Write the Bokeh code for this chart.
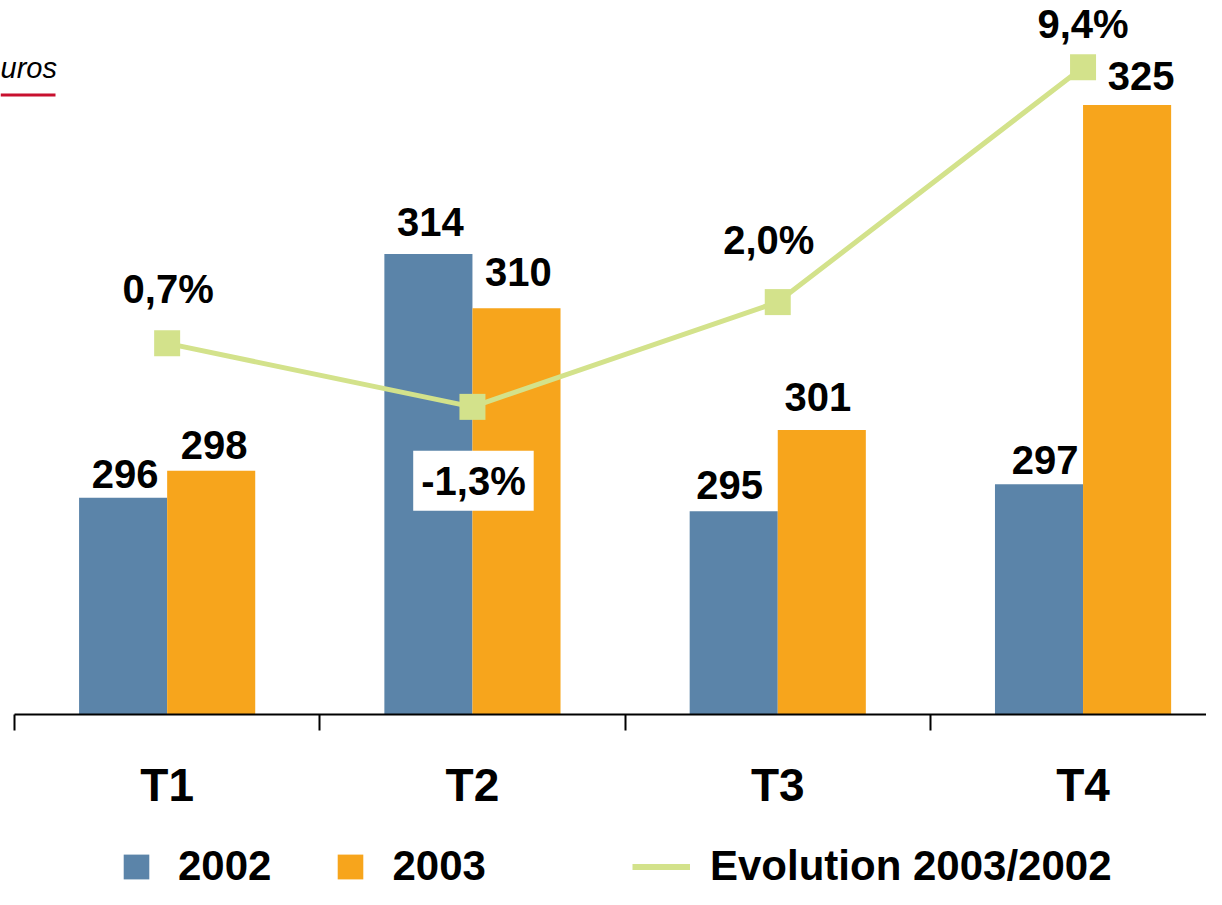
from bokeh.plotting import figure
from bokeh.layouts import column
from bokeh.models import (Range1d, LinearAxis, FixedTicker, Legend, LegendItem,
                          Label, BoxAnnotation)
from bokeh.core.properties import value
from bokeh.embed import file_html
from bokeh.resources import INLINE

# ---------------- data ----------------
quarters = ["T1", "T2", "T3", "T4"]
sales_2002 = [296, 314, 295, 297]
sales_2003 = [298, 310, 301, 325]
evolution_pct = [0.7, -1.3, 2.0, 9.4]
pct_labels = ["0,7%", "-1,3%", "2,0%", "9,4%"]
series_names = ["2002", "2003", "Evolution 2003/2002"]
unit_fragment = "uros"

# ---------------- style ----------------
BLUE = "#5B84A9"
ORANGE = "#F7A51C"
GREEN = "#D3E28B"
RED = "#C8102E"
FONT = "Liberation Sans"

W = 1206
H_MAIN, H_LEG = 820, 69
Y0, Y1 = 280.0, 332.71
CAT_PX = 305.3          # pixels per quarter
X_START = -14 / CAT_PX
X_END = (W - 14) / CAT_PX

p = figure(width=W, height=H_MAIN, output_backend="svg", toolbar_location=None,
           x_range=Range1d(X_START, X_END), y_range=Range1d(Y0, Y1),
           x_axis_location=None, y_axis_location=None,
           min_border_left=0, min_border_right=0, min_border_top=0,
           min_border_bottom=H_MAIN - 714, background_fill_color="white",
           border_fill_color="white")
p.outline_line_color = None
for g in p.grid:
    g.visible = False
p.extra_y_ranges = {"pct": Range1d(-10.99, 11.50)}

idx = list(range(len(quarters)))
bar_w = 0.2885
xc = [i + 0.5 for i in idx]
x02 = [c - bar_w / 2 for c in xc]
x03 = [c + bar_w / 2 for c in xc]

bar02 = dict(fill_color=BLUE, line_color=None)
bar03 = dict(fill_color=ORANGE, line_color=None)
line_st = dict(line_color=GREEN, line_width=5)

p.vbar(x=x02, top=sales_2002, bottom=Y0, width=bar_w, **bar02)
p.vbar(x=x03, top=sales_2003, bottom=Y0, width=bar_w, **bar03)
p.line(xc, evolution_pct, y_range_name="pct", **line_st)
p.scatter(xc, evolution_pct, y_range_name="pct", marker="square", size=26,
          fill_color=GREEN, line_color=None)

lab_kw = dict(text_align="center", text_baseline="alphabetic",
              text_font=value(FONT), text_font_style="bold",
              text_font_size="40px", text_color="black")

# bar value labels (small manual nudges as in the original)
dx02 = [2, 2, -4, 6]
dy02 = [-24, -32, -26, -24]
dx03 = [3, 2, -4, 14]
dy03 = [-26, -36, -33, -29]
p.text(x=x02, y=sales_2002, text=[str(v) for v in sales_2002],
       x_offset=dx02, y_offset=dy02, **lab_kw)
p.text(x=x03, y=sales_2003, text=[str(v) for v in sales_2003],
       x_offset=dx03, y_offset=dy03, **lab_kw)

# percentage labels
pct_dx = [1, 1, -9, 0]
pct_dy = [-54, 74, -62, -43]
pos = [i for i in idx if evolution_pct[i] >= 0]
neg = [i for i in idx if evolution_pct[i] < 0]
p.text(x=[xc[i] for i in pos], y=[evolution_pct[i] for i in pos],
       text=[pct_labels[i] for i in pos], x_offset=[pct_dx[i] for i in pos],
       y_offset=[pct_dy[i] for i in pos], y_range_name="pct", **lab_kw)
p.text(x=[xc[i] for i in neg], y=[evolution_pct[i] for i in neg],
       text=[pct_labels[i] for i in neg], x_offset=[pct_dx[i] for i in neg],
       y_offset=[pct_dy[i] for i in neg], y_range_name="pct",
       background_fill_color="white", padding=8, **lab_kw)

# x axis: boundary ticks (minor), centred labels (major)
xaxis = LinearAxis(ticker=FixedTicker(ticks=xc, minor_ticks=[0, 1, 2, 3, 4]),
                   major_label_overrides={c: q for c, q in zip(xc, quarters)},
                   bounds=(0, X_END))
xaxis.axis_line_color = "black"
xaxis.axis_line_width = 2
xaxis.major_tick_line_color = None
xaxis.major_tick_out = 0
xaxis.major_tick_in = 0
xaxis.minor_tick_line_color = "black"
xaxis.minor_tick_line_width = 2
xaxis.minor_tick_out = 16
xaxis.minor_tick_in = 0
xaxis.major_label_text_font = FONT
xaxis.major_label_text_font_style = "bold"
xaxis.major_label_text_font_size = "46px"
xaxis.major_label_text_color = "black"
xaxis.major_label_standoff = 28
p.add_layout(xaxis, "below")

# cropped unit title in the top-left corner
p.add_layout(Label(x=0, y=714 - 67, x_units="screen", y_units="screen",
                   text=unit_fragment, text_font=FONT,
                   text_font_style="italic", text_font_size="29px",
                   text_color="black", text_baseline="alphabetic"))
p.add_layout(BoxAnnotation(left=0, right=55, top=714 - 93, bottom=714 - 96,
                           left_units="screen", right_units="screen",
                           top_units="screen", bottom_units="screen",
                           fill_color=RED, fill_alpha=1, line_color=None))

# ---------------- legend strip ----------------
# hidden copies of the series only provide the legend swatches
q = figure(width=W, height=H_LEG, output_backend="svg", toolbar_location=None,
           x_range=Range1d(X_START, X_END), y_range=Range1d(Y0, Y1),
           x_axis_location=None, y_axis_location=None,
           min_border_left=0, min_border_right=0, min_border_top=0,
           min_border_bottom=0, border_fill_color="white")
q.outline_line_color = None
for g in q.grid:
    g.visible = False
k02 = q.vbar(x=x02, top=sales_2002, bottom=Y0, width=bar_w, visible=False, **bar02)
k03 = q.vbar(x=x03, top=sales_2003, bottom=Y0, width=bar_w, visible=False, **bar03)
kl = q.line(xc, evolution_pct, line_color=GREEN, line_width=6, visible=False)

leg_kw = dict(orientation="horizontal", padding=0, margin=0, spacing=63,
              border_line_color=None, background_fill_alpha=0,
              label_text_font=FONT, label_text_font_style="bold",
              label_text_font_size="42px", label_text_color="black",
              glyph_height=31, click_policy="none")
leg1 = Legend(items=[LegendItem(label=series_names[0], renderers=[k02]),
                     LegendItem(label=series_names[1], renderers=[k03])],
              location=(120, -1), glyph_width=32, label_standoff=26, **leg_kw)
leg2 = Legend(items=[LegendItem(label=series_names[2], renderers=[kl])],
              location=(632, -1), glyph_width=58, label_standoff=20, **leg_kw)
q.add_layout(leg1)
q.add_layout(leg2)

layout = column(p, q, spacing=0)
open("out.html", "w").write(file_html(layout, INLINE))
